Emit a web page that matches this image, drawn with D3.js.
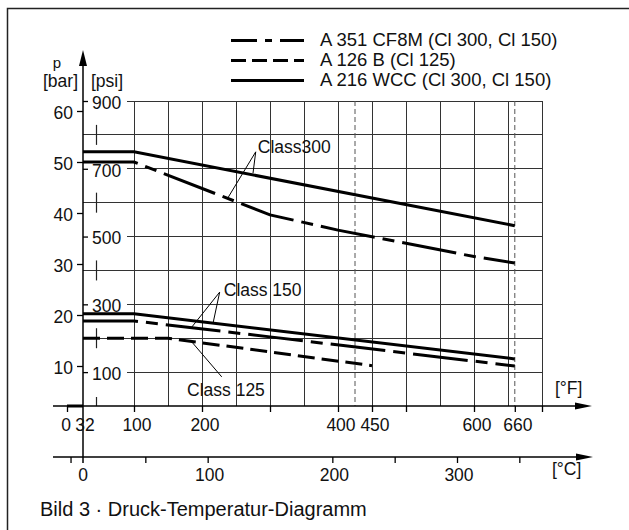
<!DOCTYPE html>
<html>
<meta charset="utf-8" />
<style>
  body { margin: 0; background: #fff; }
  svg text { font-family: "Liberation Sans", Arial, sans-serif; fill: #111; font-size: 17.5px; }
  .grid line { stroke: #333; stroke-width: 1; shape-rendering: crispEdges; }
  .limit { stroke: #555; stroke-width: 1; stroke-dasharray: 5,3; }
  .curve { fill: none; stroke: #000; stroke-width: 3; }
  .leader { stroke: #000; stroke-width: 1; fill: none; }
  .tick line { stroke: #000; stroke-width: 1.3; }
</style>
<body>
<script src="https://d3js.org/d3.v7.min.js"></script>
<script>
  let width = 629,
    height = 530;

  // temperature axes
  let fahrenheitLabels = [0, 32, 100, 200, 400, 450, 600, 660];
  let fahrenheitTicks = [0, 100, 200, 300, 400, 450, 500, 600, 660, 700];
  let fahrenheitGrid = [100, 150, 200, 250, 300, 350, 400, 450, 500, 550, 600, 650, 700];
  let limitTemps = [425, 660];
  let celsiusLabels = [0, 100, 200, 300];
  let celsiusTicks = [-10, 50, 100, 200, 250, 300, 350];

  // pressure axes
  let barLabels = [10, 20, 30, 40, 50, 60];
  let psiGrid = [100, 200, 300, 400, 500, 600, 700, 800, 900];
  let psiLabels = [100, 300, 500, 700, 900];
  let psiMarks = [200, 400, 600, 800];

  // curves: [°F, psi]
  let cf8m300 = [[32, 720], [100, 720], [300, 564], [400, 519], [500, 480], [600, 441], [660, 422]];
  let wcc300 = [[32, 750], [100, 750], [660, 532]];
  let cf8m150 = [[32, 251], [100, 251], [300, 204], [660, 118]];
  let wcc150 = [[32, 272], [100, 272], [660, 139]];
  let a126 = [[32, 200], [150, 200], [450, 119]];

  let legendNames = ["A 351 CF8M (Cl 300, Cl 150)", "A 126 B (Cl 125)", "A 216 WCC (Cl 300, Cl 150)"];

  let annotations = [
    { text: "Class300", at: [282, 746], from: [279, 750], to: [[238, 614], [275, 687]] },
    { text: "Class 150", at: [232, 325], from: [226, 336], to: [[185, 233], [216, 242]] },
    { text: "Class 125", at: [178, 30], from: [229, 86], to: [[185, 189]] },
  ];

  let dashDot = "55,8,12,8",
    dashed = "17,7";

  let svg = d3.select("body").append("svg").attr("width", width).attr("height", height);

  // scales (the drawing is not quite linear around 32 °F)
  let xF = d3.scaleLinear().domain([0, 32, 100, 700]).range([67, 83, 134, 542]);
  let xC = d3.scaleLinear().domain([0, 300]).range([83, 457]);
  let yPsi = d3.scaleLinear().domain([0, 900]).range([406, 101]);
  let yBar = d3.scaleLinear().domain([10, 60]).range([366, 111]);

  let axisY = yPsi(0),
    celsiusY = 457,
    x0 = xF(32);

  // frame
  svg.append("path")
    .attr("d", "M7.5," + height + "V8.5H" + width)
    .attr("fill", "none")
    .attr("stroke", "#222")
    .attr("stroke-width", 1.5);

  // grid
  let grid = svg.append("g").attr("class", "grid");
  grid.selectAll(".v")
    .data(fahrenheitGrid)
    .join("line")
    .attr("x1", (d) => xF(d))
    .attr("x2", (d) => xF(d))
    .attr("y1", yPsi(900))
    .attr("y2", axisY);
  grid.selectAll(".h")
    .data(psiGrid)
    .join("line")
    .attr("x1", (d) => (psiLabels.includes(d) ? 127 : x0))
    .attr("x2", xF(700))
    .attr("y1", (d) => yPsi(d))
    .attr("y2", (d) => yPsi(d));

  svg.selectAll(".limit")
    .data(limitTemps)
    .join("line")
    .attr("class", "limit")
    .attr("x1", (d) => xF(d))
    .attr("x2", (d) => xF(d))
    .attr("y1", yPsi(900))
    .attr("y2", axisY);

  // small marks in the psi column
  svg.selectAll(".mark")
    .data(psiMarks)
    .join("line")
    .attr("x1", xF(50))
    .attr("x2", xF(50))
    .attr("y1", (d) => yPsi(d) - 10)
    .attr("y2", (d) => yPsi(d) + 10)
    .attr("stroke", "#222")
    .attr("stroke-width", 1.2);
  svg.append("line")
    .attr("x1", xF(50)).attr("x2", xF(50))
    .attr("y1", axisY - 9).attr("y2", axisY)
    .attr("stroke", "#222").attr("stroke-width", 1.2);

  // curves
  let line = d3.line()
    .x((d) => xF(d[0]))
    .y((d) => yPsi(d[1]));

  let curves = [
    { data: cf8m300, dash: dashDot },
    { data: cf8m150, dash: dashDot },
    { data: a126, dash: dashed },
    { data: wcc300, dash: null },
    { data: wcc150, dash: null },
  ];
  svg.selectAll(".curve")
    .data(curves)
    .join("path")
    .attr("class", "curve")
    .attr("d", (d) => line(d.data))
    .attr("stroke-dasharray", (d) => d.dash);

  // annotations
  annotations.forEach(function (a) {
    a.to.forEach(function (t) {
      svg.append("line")
        .attr("class", "leader")
        .attr("x1", xF(a.from[0])).attr("y1", yPsi(a.from[1]))
        .attr("x2", xF(t[0])).attr("y2", yPsi(t[1]));
    });
    svg.append("text")
      .attr("x", xF(a.at[0]))
      .attr("y", yPsi(a.at[1]))
      .text(a.text);
  });

  // y axis
  svg.append("line")
    .attr("x1", x0).attr("x2", x0)
    .attr("y1", 62).attr("y2", celsiusY + 6)
    .attr("stroke", "#000").attr("stroke-width", 1.5);
  svg.append("path")
    .attr("d", "M" + x0 + ",50L" + (x0 - 4) + ",66L" + (x0 + 4) + ",66Z")
    .attr("fill", "#000");

  let barAxis = svg.append("g")
    .attr("transform", "translate(" + x0 + ",0)")
    .call(d3.axisLeft(yBar).tickValues(barLabels).tickSize(6).tickPadding(4));
  barAxis.select(".domain").remove();
  barAxis.selectAll("text").attr("dy", "0.42em");

  let psiAxis = svg.append("g")
    .attr("transform", "translate(" + x0 + ",0)")
    .call(d3.axisRight(yPsi).tickValues(psiLabels).tickSize(5).tickPadding(4));
  psiAxis.select(".domain").remove();
  psiAxis.selectAll("text").attr("dy", "0.42em");

  svg.append("text").attr("x", 57).attr("y", 68).attr("text-anchor", "middle")
    .style("font-size", "15px").text("p");
  svg.append("text").attr("x", 43).attr("y", 87).text("[bar]");
  svg.append("text").attr("x", 91).attr("y", 87).text("[psi]");

  // °F axis
  svg.append("line")
    .attr("x1", 53).attr("x2", 580)
    .attr("y1", axisY).attr("y2", axisY)
    .attr("stroke", "#000").attr("stroke-width", 1.5);
  svg.append("line")
    .attr("x1", xF(0)).attr("x2", xF(32))
    .attr("y1", axisY).attr("y2", axisY)
    .attr("stroke", "#000").attr("stroke-width", 3);
  svg.append("path")
    .attr("d", "M592," + axisY + "L575," + (axisY - 3.5) + "L575," + (axisY + 3.5) + "Z")
    .attr("fill", "#000");

  let fAxis = svg.append("g")
    .attr("transform", "translate(0," + axisY + ")")
    .call(d3.axisBottom(xF).tickValues(fahrenheitTicks).tickSize(6).tickFormat(""));
  fAxis.select(".domain").remove();

  svg.selectAll(".flabel")
    .data(fahrenheitLabels)
    .join("text")
    .attr("x", (d) => xF(d) + (d === 0 ? -1 : d === 32 ? 2 : 3))
    .attr("y", 431)
    .attr("text-anchor", "middle")
    .text((d) => d);
  svg.append("text").attr("x", 555).attr("y", 394).text("[°F]");

  // °C axis
  svg.append("line")
    .attr("x1", 53).attr("x2", 580)
    .attr("y1", celsiusY).attr("y2", celsiusY)
    .attr("stroke", "#000").attr("stroke-width", 1.5);
  svg.append("path")
    .attr("d", "M593," + celsiusY + "L576," + (celsiusY - 3.5) + "L576," + (celsiusY + 3.5) + "Z")
    .attr("fill", "#000");

  let cAxis = svg.append("g")
    .attr("transform", "translate(0," + celsiusY + ")")
    .call(d3.axisBottom(xC).tickValues(celsiusTicks).tickSize(6).tickFormat(""));
  cAxis.select(".domain").remove();

  svg.selectAll(".clabel")
    .data(celsiusLabels)
    .join("text")
    .attr("x", (d) => xC(d) + (d === 0 ? 0 : 2))
    .attr("y", 481)
    .attr("text-anchor", "middle")
    .text((d) => d);
  svg.append("text").attr("x", 552).attr("y", 475).text("[°C]");

  // legend
  let legendDash = ["26,8,7,8", "15,6", null];
  let legend = svg.selectAll(".legend")
    .data(legendNames)
    .join("g")
    .attr("transform", (d, i) => "translate(0," + (46 + i * 20) + ")");
  legend.append("line")
    .attr("x1", 231).attr("x2", 304)
    .attr("y1", -5.5).attr("y2", -5.5)
    .attr("stroke", "#000").attr("stroke-width", 3)
    .attr("stroke-dasharray", (d, i) => legendDash[i]);
  legend.append("text")
    .attr("x", 320)
    .style("font-size", "18.5px")
    .text((d) => d);

  // caption
  svg.append("text")
    .attr("x", 40)
    .attr("y", 516)
    .style("font-size", "20px")
    .text("Bild 3 · Druck-Temperatur-Diagramm");
</script>
</body>
</html>
